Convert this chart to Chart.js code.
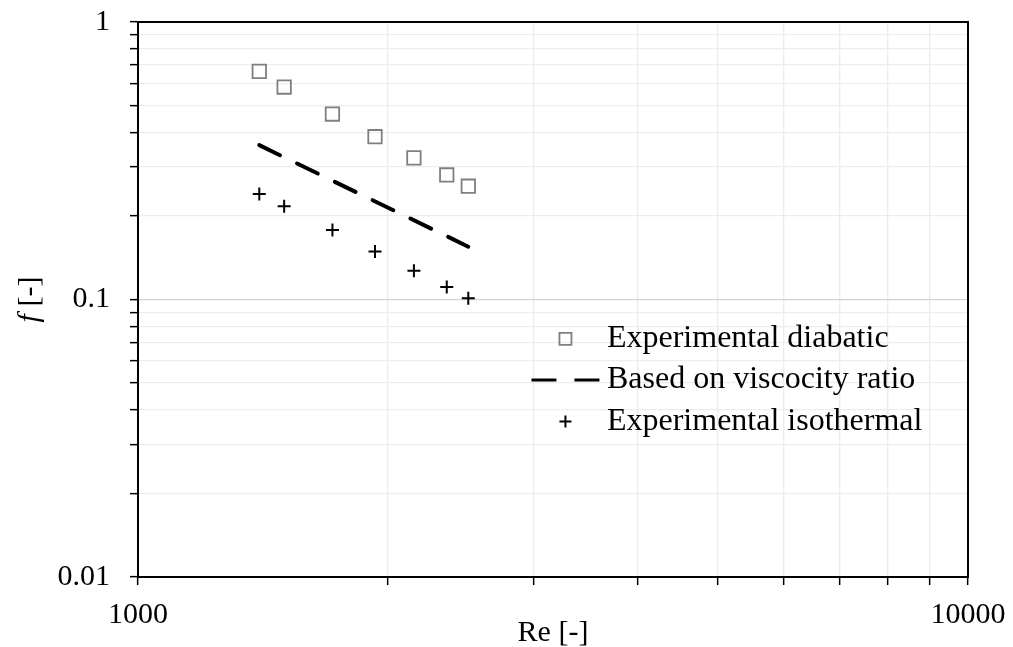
<!DOCTYPE html>
<html>
<head>
<meta charset="utf-8">
<title>Friction factor vs Re</title>
<script src="https://cdn.jsdelivr.net/npm/chart.js@4.4.1/dist/chart.umd.min.js"></script>
<style>
    html, body { margin: 0; padding: 0; background: #ffffff; }
    #wrap { position: relative; width: 1013px; height: 647px; }
</style>
</head>
<body>
<div id="wrap"><canvas id="frictionChart" width="1013" height="647"></canvas></div>
<script>
// Datos de ensayo
const reynolds = [1400, 1500, 1715, 1930, 2150, 2355, 2500];
const fDiabatic = [0.664, 0.583, 0.466, 0.386, 0.324, 0.281, 0.256];
const fIsothermal = [0.240, 0.217, 0.178, 0.149, 0.127, 0.111, 0.101];

// Correlación basada en la relación de viscosidades (recta en log-log)
const reViscosity = [1400, 2500];
const fViscosity = [0.360, 0.155];

const xTickLabels = ['1000', '10000'];
const yTickLabels = ['0.01', '0.1', '1'];

const serif = "'Liberation Serif', 'Times New Roman', serif";

function toPoints(xs, ys) {
    return xs.map((x, i) => ({ x: x, y: ys[i] }));
}

function isDecade(v) {
    const l = Math.log10(v);
    return Math.abs(l - Math.round(l)) < 1e-9;
}

function labelFor(list) {
    return function (value) {
        if (!isDecade(value)) return '';
        const txt = String(Number(value.toPrecision(6)));
        return list.includes(txt) ? txt : '';
    };
}

// Marcas 1..9 por década, como en Excel
function decadeTicks(scale) {
    const ticks = [];
    const e0 = Math.round(Math.log10(scale.min));
    const e1 = Math.round(Math.log10(scale.max));
    for (let e = e0; e < e1; e++) {
        for (let m = 1; m <= 9; m++) {
            ticks.push({ value: Number((m * Math.pow(10, e)).toPrecision(6)) });
        }
    }
    ticks.push({ value: Math.pow(10, e1) });
    scale.ticks = ticks;
}

// Sin relleno extra por las etiquetas: el área la fija layout.padding
function noLabelPadding(s) {
    s.paddingTop = 0;
    s.paddingBottom = 0;
    s.paddingLeft = 0;
    s.paddingRight = 0;
}

// Marco completo, título del eje Y y leyenda dentro del área de trazado
const framePlugin = {
    id: 'frameAndLegend',
    afterDraw(chart) {
        const { ctx, chartArea: a } = chart;
        ctx.save();
        ctx.strokeStyle = '#000';
        ctx.lineWidth = 2;
        ctx.strokeRect(a.left, a.top, a.right - a.left, a.bottom - a.top);

        // Título eje Y: "f" en cursiva
        ctx.translate(30, (a.top + a.bottom) / 2);
        ctx.rotate(-Math.PI / 2);
        ctx.fillStyle = '#000';
        ctx.textBaseline = 'middle';
        ctx.font = 'italic 30px ' + serif;
        const wf = ctx.measureText('f').width;
        ctx.font = '30px ' + serif;
        const wr = ctx.measureText(' [-]').width;
        let sx = -(wf + wr) / 2;
        ctx.textAlign = 'left';
        ctx.font = 'italic 30px ' + serif;
        ctx.fillText('f', sx, 0);
        ctx.font = '30px ' + serif;
        ctx.fillText(' [-]', sx + wf, 0);
        ctx.restore();

        // Leyenda
        const w = a.right - a.left;
        const h = a.bottom - a.top;
        const lx = a.left + w * 0.515;
        const tx = a.left + w * 0.565;
        const rows = [a.top + h * 0.571, a.top + h * 0.645, a.top + h * 0.72];
        const ds = chart.data.datasets;
        ctx.save();
        ctx.font = '32px ' + serif;
        ctx.textBaseline = 'middle';
        ctx.textAlign = 'left';
        ds.forEach((d, i) => {
            const y = rows[i];
            if (d.showLine) {
                ctx.strokeStyle = d.borderColor;
                ctx.lineWidth = 3.2;
                ctx.setLineDash([25, 18]);
                ctx.beginPath();
                ctx.moveTo(lx - 34, y);
                ctx.lineTo(lx + 34, y);
                ctx.stroke();
                ctx.setLineDash([]);
            } else {
                ctx.fillStyle = 'rgba(0,0,0,0)';
                ctx.strokeStyle = d.pointBorderColor;
                ctx.lineWidth = d.pointBorderWidth;
                Chart.helpers.drawPoint(ctx, {
                    pointStyle: d.pointStyle,
                    radius: d.legendRadius,
                    borderWidth: d.pointBorderWidth
                }, lx, y);
            }
            ctx.fillStyle = '#000';
            ctx.fillText(d.label, tx, y);
        });
        ctx.restore();
    }
};

const ctx = document.getElementById('frictionChart');

new Chart(ctx, {
    type: 'scatter',
    data: {
        datasets: [
            {
                label: 'Experimental diabatic',
                data: toPoints(reynolds, fDiabatic),
                pointStyle: 'rect',
                pointRadius: 9.5,
                legendRadius: 8.5,
                pointBorderWidth: 1.8,
                pointBorderColor: '#7f7f7f',
                pointBackgroundColor: 'rgba(0,0,0,0)',
                showLine: false
            },
            {
                label: 'Based on viscocity ratio',
                data: toPoints(reViscosity, fViscosity),
                showLine: true,
                borderColor: '#000000',
                borderWidth: 4,
                borderDash: [23, 19],
                borderCapStyle: 'round',
                pointRadius: 0
            },
            {
                label: 'Experimental isothermal',
                data: toPoints(reynolds, fIsothermal),
                pointStyle: 'cross',
                pointRadius: 6.5,
                legendRadius: 6,
                pointBorderWidth: 2,
                pointBorderColor: '#000000',
                showLine: false
            }
        ]
    },
    options: {
        responsive: false,
        animation: false,
        layout: { padding: { left: 0, right: 45, top: 22, bottom: 0 } },
        scales: {
            x: {
                type: 'logarithmic',
                min: 1000,
                max: 10000,
                afterBuildTicks: decadeTicks,
                afterFit: s => { s.height = 70; noLabelPadding(s); },
                grid: {
                    color: '#ececec',
                    lineWidth: 1.3,
                    tickColor: '#000',
                    tickLength: 8,
                    tickWidth: 1.5
                },
                border: { color: '#000', width: 2 },
                ticks: {
                    autoSkip: false,
                    maxRotation: 0,
                    padding: 12,
                    color: '#000',
                    font: { family: serif, size: 30 },
                    callback: labelFor(xTickLabels)
                },
                title: {
                    display: true,
                    text: 'Re [-]',
                    color: '#000',
                    font: { family: serif, size: 30 },
                    padding: { top: 0, bottom: -4 }
                }
            },
            y: {
                type: 'logarithmic',
                min: 0.01,
                max: 1,
                afterBuildTicks: decadeTicks,
                afterFit: s => { s.width = 138; noLabelPadding(s); },
                grid: {
                    color: c => (c.tick && Math.abs(c.tick.value - 0.1) < 1e-9) ? '#d4d4d4' : '#ededed',
                    lineWidth: 1.3,
                    tickColor: '#000',
                    tickLength: 8,
                    tickWidth: 1.5
                },
                border: { color: '#000', width: 2 },
                ticks: {
                    autoSkip: false,
                    padding: 20,
                    color: '#000',
                    font: { family: serif, size: 30 },
                    callback: labelFor(yTickLabels)
                }
            }
        },
        plugins: {
            legend: { display: false },
            tooltip: { enabled: false }
        }
    },
    plugins: [framePlugin]
});
</script>
</body>
</html>
